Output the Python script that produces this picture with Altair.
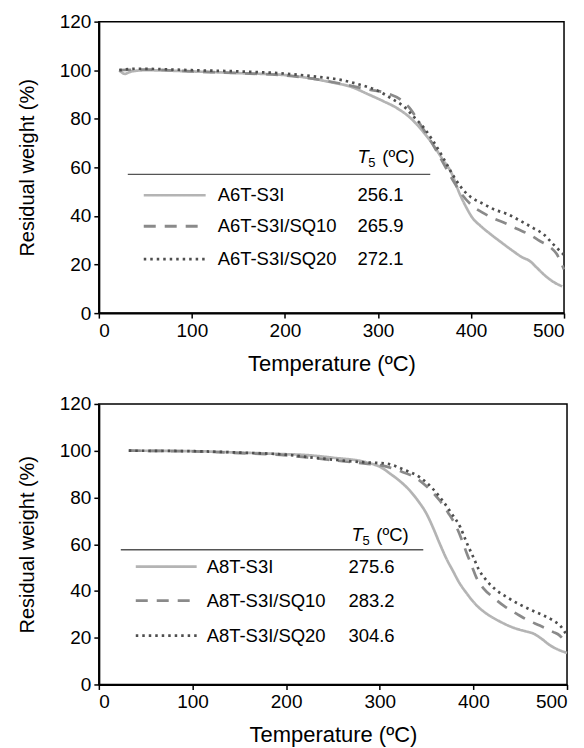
import altair as alt
import pandas as pd

# ---------------- data ----------------
# Top panel: A6T series
a6_s3i_T = [22, 28, 35, 50, 100, 150, 200, 230, 250, 270, 290, 306, 320, 335, 350, 359, 370, 378, 388, 395, 402, 410, 421, 433, 445, 455, 463, 470, 478, 488, 498]
a6_s3i_W = [100, 98.5, 99.5, 100, 99.5, 98.8, 98, 96.5, 95, 93.3, 90, 87.2, 84.5, 80.3, 74, 69.5, 63, 58.5, 49, 43.5, 39, 36, 32.5, 29, 25.6, 23, 21.5, 19, 16, 13, 11]
a6_sq10_T = [22, 50, 100, 150, 200, 230, 260, 290, 310, 324, 335, 345, 355, 363, 372, 381, 390, 402, 412, 424, 437, 450, 462, 474, 484, 492, 500]
a6_sq10_W = [100, 100.3, 99.5, 98.8, 97.8, 96.5, 94.5, 92, 90.5, 88, 84, 78, 72, 66.7, 60.5, 54.4, 49, 44, 41.5, 39, 37, 34.6, 32.5, 29.7, 27.5, 24.4, 18]
a6_sq20_T = [22, 40, 60, 100, 150, 200, 230, 260, 281, 300, 316, 328, 338, 350, 359, 370, 378, 387, 396, 405, 413, 426, 439, 453, 467, 478, 488, 500]
a6_sq20_W = [100, 100.6, 100.5, 100, 99.5, 98.6, 97.5, 96, 94, 91.5, 88, 85, 81, 76, 71, 64, 58.5, 53, 49, 46.5, 45, 42.5, 40.8, 38, 35, 32.5, 28.5, 24]

# Bottom panel: A8T series
a8_s3i_T = [32, 100, 150, 200, 215, 250, 286, 303, 311, 320, 332, 341, 350, 357, 364, 371, 378, 385, 393, 403, 414, 428, 442, 455, 464, 473, 482, 490, 500]
a8_s3i_W = [100, 99.8, 99.2, 98.5, 98.3, 97, 95, 92.5, 90.2, 87.5, 83, 78.5, 73, 67, 60.3, 54, 48.7, 43.5, 38.9, 34, 30.3, 27, 24.4, 22.8, 21.8, 19.5, 16.7, 15, 13.5]
a8_sq10_T = [32, 100, 150, 200, 230, 260, 285, 303, 320, 340, 352, 364, 373, 382, 388, 393, 398, 403, 411, 421, 433, 446, 458, 471, 485, 492, 500]
a8_sq10_W = [100, 99.7, 99, 98, 96.8, 95.5, 94.5, 93.6, 91.5, 88, 84, 78.7, 73.5, 67.3, 61.5, 56, 51, 45.9, 41, 37.3, 33.5, 30.3, 27.5, 25.2, 22.5, 21, 17]
a8_sq20_T = [32, 100, 150, 200, 230, 260, 285, 307, 325, 343, 356, 367, 377, 386, 393, 400, 406, 414, 424, 436, 449, 463, 475, 485, 493, 500]
a8_sq20_W = [100, 99.8, 99.2, 98.3, 97, 95.8, 95, 94.5, 92, 88.6, 84, 78.7, 73, 67.3, 60.5, 54.4, 49, 44.5, 40.5, 37.3, 34.3, 31.6, 29.5, 27.4, 25, 21]

top_names = ["A6T-S3I", "A6T-S3I/SQ10", "A6T-S3I/SQ20"]
top_t5 = ["256.1", "265.9", "272.1"]
bot_names = ["A8T-S3I", "A8T-S3I/SQ10", "A8T-S3I/SQ20"]
bot_t5 = ["275.6", "283.2", "304.6"]

x_ticks = [0, 100, 200, 300, 400, 500]
y_ticks = [0, 20, 40, 60, 80, 100, 120]

# ---------------- styles ----------------
FONT = "Liberation Sans"
COLORS = ["#b4b4b4", "#8a8a8a", "#4e4e4e"]
DASHES = [[1, 0], [12, 9], [2.5, 4]]
WIDTHS = [2.6, 2.8, 2.8]
LEG_FS = 18.5


def make_df(names, Ts, Ws):
    rows = []
    for i, (n, T, W) in enumerate(zip(names, Ts, Ws)):
        for t, w in zip(T, W):
            rows.append({"series": n, "order": i, "T": t, "W": w})
    return pd.DataFrame(rows)


one = pd.DataFrame({"k": [0]})


def panel(names, t5, Ts, Ws, w, h, L):
    df = make_df(names, Ts, Ws)
    lines = alt.Chart(df).mark_line(interpolate="monotone", strokeWidth=2.7, strokeCap="butt").encode(
        x=alt.X("T:Q", scale=alt.Scale(domain=[0, 500], nice=False),
                axis=alt.Axis(title="Temperature (ºC)", values=x_ticks, grid=False)),
        y=alt.Y("W:Q", scale=alt.Scale(domain=[0, 120], nice=False),
                axis=alt.Axis(title="Residual weight (%)", values=y_ticks, grid=False)),
        color=alt.Color("series:N", scale=alt.Scale(domain=names, range=COLORS), legend=None),
        strokeDash=alt.StrokeDash("series:N", scale=alt.Scale(domain=names, range=DASHES), legend=None),
        detail="series:N",
    )
    layers = [lines]
    # table-like legend
    layers.append(alt.Chart(one).mark_rule(color="#555555", strokeWidth=1.4).encode(
        x=alt.value(L["rx0"]), x2=alt.value(L["rx1"]), y=alt.value(L["ry"])))
    layers.append(alt.Chart(one).mark_text(text="T", font=FONT, fontSize=LEG_FS, fontStyle="italic",
                                           align="left", baseline="middle", color="black").encode(
        x=alt.value(L["hx"]), y=alt.value(L["hy"])))
    layers.append(alt.Chart(one).mark_text(text="5", font=FONT, fontSize=13,
                                           align="left", baseline="middle", color="black").encode(
        x=alt.value(L["hx"] + 11), y=alt.value(L["hy"] + 6)))
    layers.append(alt.Chart(one).mark_text(text="(ºC)", font=FONT, fontSize=LEG_FS,
                                           align="left", baseline="middle", color="black").encode(
        x=alt.value(L["hx"] + 25), y=alt.value(L["hy"])))
    for i in range(3):
        yy = L["rows"][i]
        layers.append(alt.Chart(one).mark_rule(color=COLORS[i], strokeWidth=WIDTHS[i],
                                               strokeDash=DASHES[i], strokeCap="butt").encode(
            x=alt.value(L["sx0"]), x2=alt.value(L["sx1"]), y=alt.value(yy)))
        layers.append(alt.Chart(one).mark_text(text=names[i], font=FONT, fontSize=LEG_FS,
                                               align="left", baseline="middle", color="black").encode(
            x=alt.value(L["lx"]), y=alt.value(yy)))
        layers.append(alt.Chart(one).mark_text(text=t5[i], font=FONT, fontSize=LEG_FS,
                                               align="left", baseline="middle", color="black").encode(
            x=alt.value(L["vx"]), y=alt.value(yy)))
    return alt.layer(*layers).properties(width=w, height=h)


top_L = dict(rx0=29, rx1=332, ry=153, hx=259, hy=136, rows=[174, 205, 238],
             sx0=45, sx1=107, lx=119, vx=259)
bot_L = dict(rx0=22, rx1=325, ry=146, hx=253, hy=131, rows=[163, 197, 232],
             sx0=37, sx1=98, lx=108, vx=250)

top = panel(top_names, top_t5, [a6_s3i_T, a6_sq10_T, a6_sq20_T], [a6_s3i_W, a6_sq10_W, a6_sq20_W], 466, 292, top_L)
bot = panel(bot_names, bot_t5, [a8_s3i_T, a8_sq10_T, a8_sq20_T], [a8_s3i_W, a8_sq10_W, a8_sq20_W], 469, 281, bot_L)

chart = alt.vconcat(top, bot, spacing=19).properties(
    padding={"left": 8, "top": 3, "right": 2, "bottom": 0}
).configure_view(
    stroke="black", strokeWidth=1.5
).configure_axis(
    domainColor="black", domainWidth=2, tickColor="black", tickWidth=1.5, tickSize=5,
    labelFont=FONT, labelFontSize=19, labelColor="black", labelPadding=3,
    titleFont=FONT, titleFontWeight="normal", titleColor="black",
).configure_axisY(titlePadding=22, titleFontSize=20).configure_axisX(titlePadding=13, titleFontSize=22)

chart.save("out.html", embed_options={"renderer": "svg", "actions": False})
